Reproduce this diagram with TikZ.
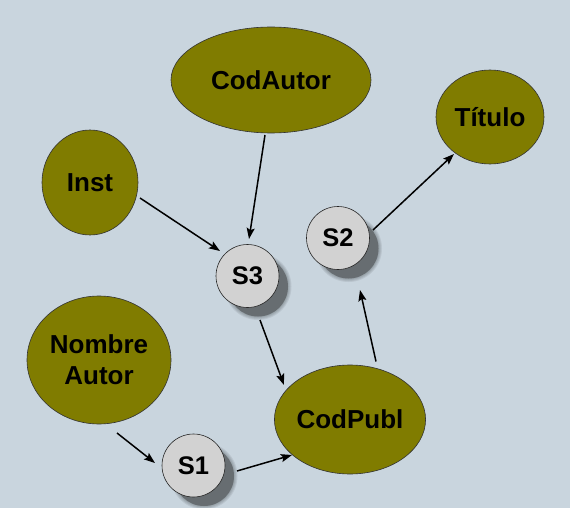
\documentclass[tikz,border=0pt]{standalone}
\usepackage{fontspec}
\setmainfont{Liberation Sans}
\usetikzlibrary{shapes.geometric,arrows.meta,calc}
\definecolor{bgc}{RGB}{201,213,222}
\definecolor{olivec}{RGB}{128,124,0}
\definecolor{circc}{RGB}{210,210,210}
\tikzset{
  ent/.style={ellipse, draw=black!80, line width=0.6pt, fill=olivec, inner sep=0pt,
    font=\fontsize{26}{31}\selectfont\bfseries, align=center},
  sbox/.style={circle, draw=black!85, line width=0.6pt, fill=circc, inner sep=0pt,
    minimum size=63pt, font=\fontsize{25.5}{30}\selectfont\bfseries},
  conn/.style={line width=1.5pt, -{Stealth[length=11pt,width=8pt,inset=2pt]}}
}
\newcommand{\shadowat}[1]{%
  \fill[black,opacity=0.3] ($(#1)+(10.5,10.5)$) circle (30pt);
  \foreach \rr in {33.5,32.5,31.5,30.5}{
    \fill[black,opacity=0.07] ($(#1)+(10.5,10.5)$) circle (\rr pt);
  }}
\begin{document}
\begin{tikzpicture}[x=1pt,y=-1pt]
\fill[bgc] (0,0) rectangle (570,508);
\useasboundingbox (0,0) rectangle (570,508);

\node[ent, minimum width=200pt, minimum height=106pt] (codautor) at (271,80) {CodAutor};
\node[ent, minimum width=108pt, minimum height=94pt] (titulo) at (490,117) {Título};
\node[ent, minimum width=96pt, minimum height=105pt] (inst) at (90,182.5) {Inst};
\node[ent, minimum width=144pt, minimum height=128pt] (nombre) at (99,360) {Nombre\\Autor};
\node[ent, minimum width=132pt, minimum height=109pt] (codpubl) at (350,419.5) {CodPubl};

\coordinate (c3) at (247.5,276);
\coordinate (c2) at (338,238);
\coordinate (c1) at (193.5,465.5);
\shadowat{c3}
\shadowat{c2}
\shadowat{c1}
\node[sbox] (s3) at (c3) {S3};
\node[sbox] (s2) at (c2) {S2};
\node[sbox] (s1) at (c1) {S1};

\draw[conn] ($(codautor)+(-6,55)$) -- ($(s3)+(1.5,-37)$);
\draw[conn] ($(inst)+(50,15.5)$) -- ($(s3)+(-27.5,-25)$);
\draw[conn] ($(s3)+(12.5,44)$) -- ($(codpubl)+(-66,-34.5)$);
\draw[conn] ($(nombre)+(18,73)$) -- ($(s1)+(-38.5,-2.5)$);
\draw[conn] ($(s1)+(43.5,5.5)$) -- ($(codpubl)+(-58,35.5)$);
\draw[conn] ($(codpubl)+(26,-58)$) -- ($(s2)+(22,52)$);
\draw[conn] ($(s2)+(35,-8)$) -- ($(titulo)+(-36,37)$);
\end{tikzpicture}
\end{document}
